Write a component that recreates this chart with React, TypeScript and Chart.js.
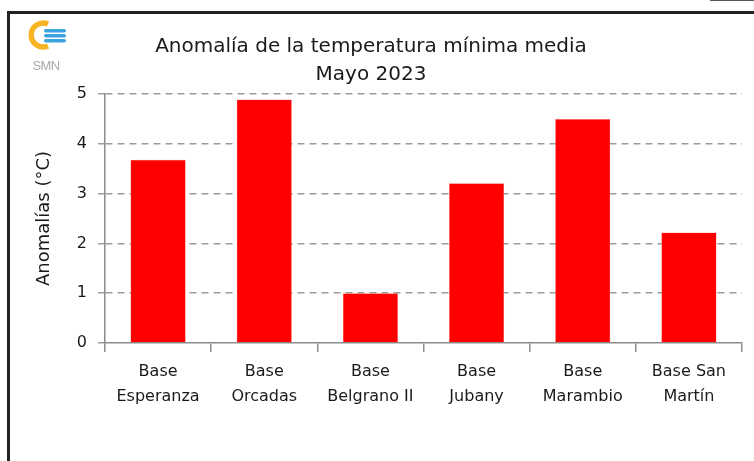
import React, { useEffect, useRef } from "react";
import { Chart, registerables } from "chart.js";

Chart.register(...registerables);

const categories: string[][] = [
  ["Base", "Esperanza"],
  ["Base", "Orcadas"],
  ["Base", "Belgrano II"],
  ["Base", "Jubany"],
  ["Base", "Marambio"],
  ["Base San", "Martín"],
];
const anomalies: number[] = [3.68, 4.89, 1.0, 3.21, 4.5, 2.22];
const yTicks: number[] = [0, 1, 2, 3, 4, 5];
const titleLines: string[] = ["Anomalía de la temperatura mínima media", "Mayo 2023"];
const yTitle = "Anomalías (°C)";

const FONT = "'DejaVu Sans', sans-serif";

export default function App() {
  const ref = useRef<HTMLCanvasElement | null>(null);

  useEffect(() => {
    document.body.style.margin = "0";
    document.body.style.overflow = "hidden";
    if (!ref.current) return;
    const chart = new Chart(ref.current, {
      type: "bar",
      data: {
        labels: categories,
        datasets: [
          {
            data: anomalies,
            backgroundColor: "#ff0000",
            borderColor: "#ff8080",
            borderWidth: 0.5,
            categoryPercentage: 1,
            barPercentage: 0.52,
          },
        ],
      },
      options: {
        animation: false,
        responsive: false,
        maintainAspectRatio: false,
        layout: { padding: { left: 0, right: 12, top: 0, bottom: 0 } },
        plugins: {
          legend: { display: false },
          tooltip: { enabled: false },
          title: {
            display: true,
            text: titleLines,
            color: "#1a1a1a",
            font: { family: FONT, size: 20, weight: "normal", lineHeight: 1.4 },
            padding: { top: 33, bottom: 5 },
          },
        },
        scales: {
          x: {
            grid: {
              display: true,
              drawOnChartArea: false,
              drawTicks: true,
              tickLength: 9,
              color: "#8c8c8c",
              lineWidth: 1.5,
            },
            border: { display: true, color: "#8c8c8c", width: 1.5 },
            ticks: {
              color: "#1a1a1a",
              font: { family: FONT, size: 16, lineHeight: 1.56 },
              padding: 7,
              maxRotation: 0,
              autoSkip: false,
            },
            afterFit: (scale: any) => {
              scale.height = 118;
            },
          },
          y: {
            min: 0,
            max: 5,
            afterBuildTicks: (scale: any) => {
              scale.ticks = yTicks.map((v) => ({ value: v }));
            },
            grid: {
              color: (ctx: any) => (ctx.tick && ctx.tick.value === 0 ? "rgba(0,0,0,0)" : "#9c9c9c"),
              lineWidth: 1.5,
              tickLength: 7,
              tickColor: "#9c9c9c",
              tickBorderDash: [7, 5],
            },
            border: { display: true, color: "#8c8c8c", width: 1.5, dash: [7, 5] },
            ticks: {
              color: "#1a1a1a",
              font: { family: FONT, size: 16 },
              padding: 11,
            },
            title: {
              display: true,
              text: yTitle,
              color: "#1a1a1a",
              font: { family: FONT, size: 18 },
              padding: { top: 34, bottom: 0 },
            },
            afterFit: (scale: any) => {
              scale.width = 105;
            },
          },
        },
      },
    });
    return () => chart.destroy();
  }, []);

  return (
    <div style={{ position: "fixed", left: 0, top: 0, width: 754, height: 461, overflow: "hidden", background: "#fff" }}>
      <div style={{ position: "absolute", left: 710, top: 0, width: 44, height: 1, background: "#555" }} />
      <div
        style={{
          position: "absolute",
          left: 7,
          top: 11,
          width: 800,
          height: 500,
          borderLeft: "3px solid #222",
          borderTop: "3px solid #222",
        }}
      />
      <canvas ref={ref} width={754} height={461} style={{ position: "absolute", left: 0, top: 0, width: 754, height: 461 }} />
      <svg style={{ position: "absolute", left: 0, top: 0 }} width={80} height={80}>
        <path d="M 48 24 A 12 12 0 1 0 48 46" fill="none" stroke="#f7b526" strokeWidth={5.5} />
        <rect x={44} y={29} width={22} height={3.5} rx={1.7} fill="#3ba3dd" />
        <rect x={44} y={34} width={22} height={3.5} rx={1.7} fill="#3ba3dd" />
        <rect x={44} y={39} width={22} height={3.5} rx={1.7} fill="#3ba3dd" />
        <text x={46} y={70} textAnchor="middle" fontFamily="'Liberation Sans', sans-serif" fontSize={13} fill="#aaaaaa" letterSpacing={-0.6}>
          SMN
        </text>
      </svg>
    </div>
  );
}
